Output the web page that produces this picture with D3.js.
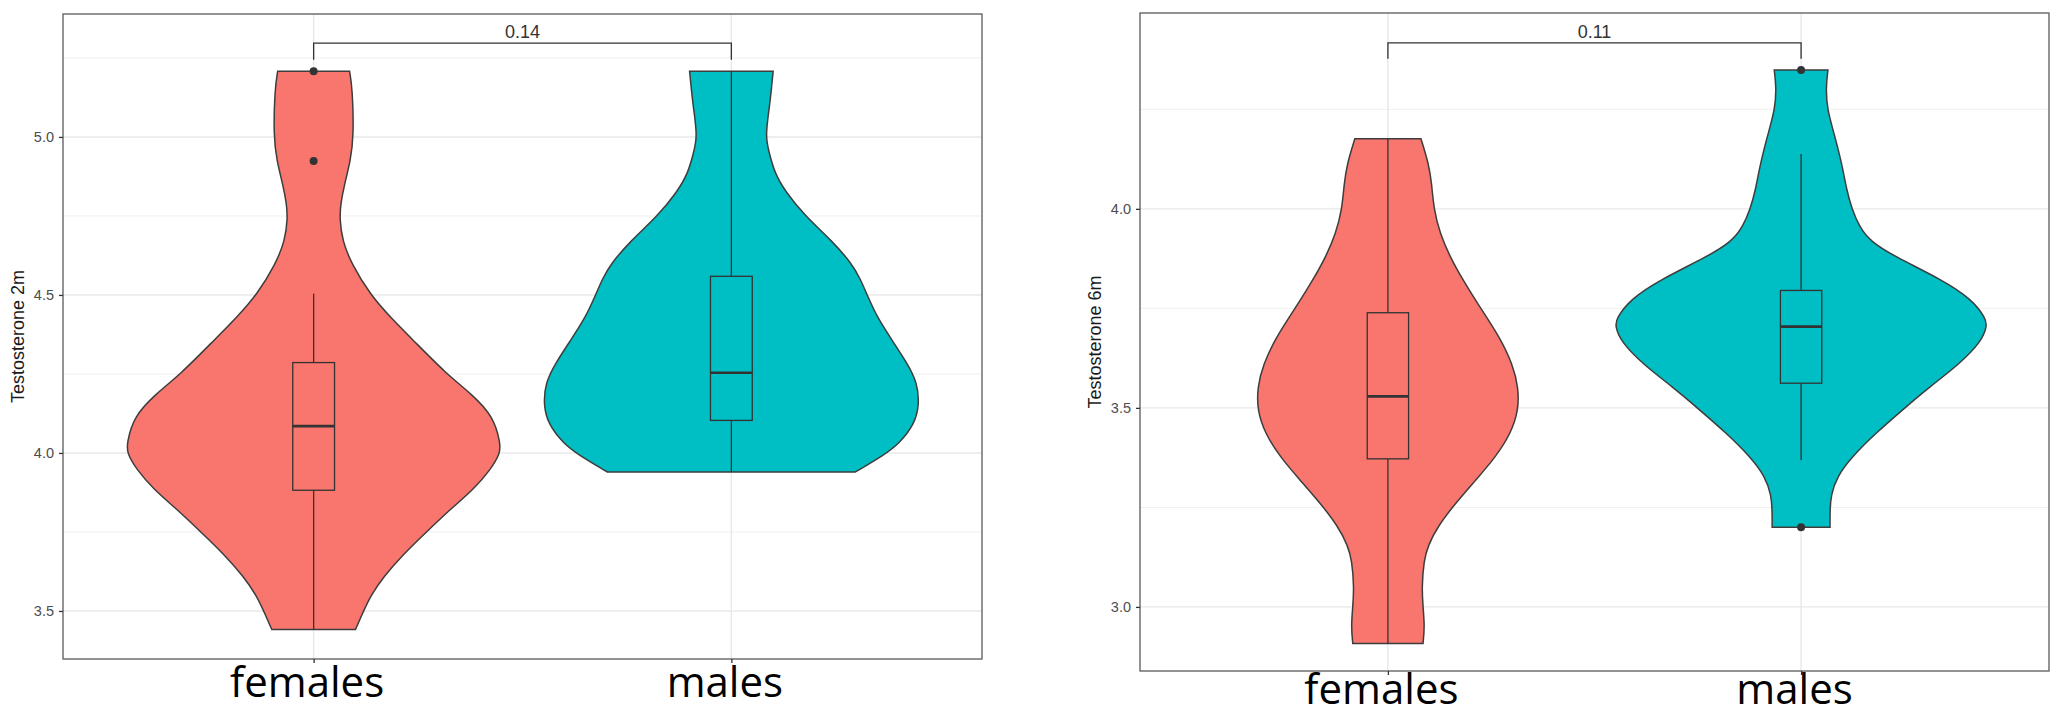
<!DOCTYPE html>
<html>
<head>
<meta charset="utf-8">
<style>
  body { margin: 0; background: #fff; }
  svg { display: block; }
</style>
</head>
<body>
<svg id="chart"></svg>
<script src="https://d3js.org/d3.v7.min.js"></script>
<script>

  var groups = ["females", "males"];

  // Testosterone 2m (left panel)
  var t2mTicks = [3.5, 4.0, 4.5, 5.0];
  var t2mMinor = [3.75, 4.25, 4.75, 5.25];
  // violin outline: [value, half width in category units]
  var t2mFemaleViolin = [
    [3.441, 0.100], [3.501, 0.120], [3.547, 0.136], [3.608, 0.167], [3.680, 0.215],
    [3.750, 0.270], [3.825, 0.330], [3.885, 0.383], [3.946, 0.423], [4.000, 0.447],
    [4.030, 0.447], [4.115, 0.431], [4.187, 0.378], [4.250, 0.318], [4.356, 0.239],
    [4.429, 0.184], [4.500, 0.136], [4.598, 0.091], [4.670, 0.069], [4.743, 0.062],
    [4.791, 0.065], [4.851, 0.074], [4.924, 0.088], [5.000, 0.096], [5.153, 0.093],
    [5.208, 0.086]
  ];
  var t2mMaleViolin = [
    [3.940, 0.297], [3.994, 0.366], [4.030, 0.402], [4.090, 0.438], [4.151, 0.450],
    [4.223, 0.445], [4.284, 0.421], [4.356, 0.385], [4.429, 0.349], [4.500, 0.325],
    [4.550, 0.309], [4.598, 0.289], [4.670, 0.242], [4.749, 0.177], [4.827, 0.129],
    [4.888, 0.103], [4.948, 0.091], [5.000, 0.081], [5.093, 0.091], [5.153, 0.096],
    [5.208, 0.100]
  ];
  // [lower whisker, q1, median, q3, upper whisker]
  var t2mBoxStats = [[3.441, 3.882, 4.085, 4.286, 4.504], [3.940, 4.103, 4.254, 4.559, 5.208]];
  var t2mOutliers = [[4.924, 5.208], []];
  var t2mBracket = [5.244, 5.297];
  var t2mPValue = "0.14";

  // Testosterone 6m (right panel)
  var t6mTicks = [3.0, 3.5, 4.0];
  var t6mMinor = [3.25, 3.75, 4.25];
  var t6mFemaleViolin = [
    [2.908, 0.085], [2.951, 0.089], [3.000, 0.085], [3.048, 0.082], [3.116, 0.087],
    [3.154, 0.097], [3.203, 0.121], [3.261, 0.164], [3.319, 0.213], [3.377, 0.261],
    [3.435, 0.297], [3.493, 0.316], [3.551, 0.316], [3.609, 0.302], [3.677, 0.271],
    [3.749, 0.225], [3.822, 0.181], [3.880, 0.150], [3.938, 0.126], [4.000, 0.111],
    [4.063, 0.106], [4.112, 0.099], [4.176, 0.080]
  ];
  var t6mMaleViolin = [
    [3.200, 0.070], [3.241, 0.070], [3.280, 0.072], [3.328, 0.087], [3.377, 0.123],
    [3.435, 0.179], [3.500, 0.251], [3.551, 0.309], [3.609, 0.382], [3.667, 0.437],
    [3.706, 0.450], [3.725, 0.447], [3.773, 0.413], [3.822, 0.341], [3.880, 0.227],
    [3.918, 0.167], [3.957, 0.140], [4.000, 0.123], [4.044, 0.111], [4.112, 0.099],
    [4.189, 0.080], [4.250, 0.063], [4.305, 0.060], [4.349, 0.065]
  ];
  var t6mBoxStats = [[2.908, 3.372, 3.529, 3.739, 4.176], [3.369, 3.562, 3.704, 3.795, 4.138]];
  var t6mOutliers = [[], [3.200, 4.349]];
  var t6mBracket = [4.377, 4.417];
  var t6mPValue = "0.11";

  var colors = ["#F8766D", "#00BFC4"];
  var ink = "#333333";

  var svg = d3.select("#chart")
    .attr("width", 2060)
    .attr("height", 718);

  function drawPanel(p) {
    var x = d3.scalePoint()
      .domain(groups)
      .range([p.left, p.right])
      .padding(0.6);
    var step = x.step();

    var y = d3.scaleLinear()
      .domain(p.domain)
      .range([p.bottom, p.top]);

    var g = svg.append("g");

    // grid
    g.selectAll(".minor").data(p.minor).enter().append("line")
      .attr("x1", p.left).attr("x2", p.right)
      .attr("y1", function(d) { return y(d); })
      .attr("y2", function(d) { return y(d); })
      .attr("stroke", "#f0f0f0")
      .attr("stroke-width", 1);

    g.selectAll(".major").data(p.ticks).enter().append("line")
      .attr("x1", p.left).attr("x2", p.right)
      .attr("y1", function(d) { return y(d); })
      .attr("y2", function(d) { return y(d); })
      .attr("stroke", "#e8e8e8")
      .attr("stroke-width", 1.4);

    g.selectAll(".vgrid").data(groups).enter().append("line")
      .attr("x1", function(d) { return x(d); })
      .attr("x2", function(d) { return x(d); })
      .attr("y1", p.top).attr("y2", p.bottom)
      .attr("stroke", "#e8e8e8")
      .attr("stroke-width", 1.4);

    groups.forEach(function(grp, i) {
      var cx = x(grp);
      var s = p.boxes[i];
      var bw = 0.1 * step;

      var area = d3.area()
        .curve(d3.curveBasis)
        .y(function(d) { return y(d[0]); })
        .x0(function(d) { return cx - d[1] * step; })
        .x1(function(d) { return cx + d[1] * step; });

      g.append("path")
        .datum(p.violins[i])
        .attr("d", area)
        .attr("fill", colors[i])
        .attr("stroke", "#3d3d3d")
        .attr("stroke-width", 1.5);

      // whiskers
      g.append("line")
        .attr("x1", cx).attr("x2", cx)
        .attr("y1", y(s[0])).attr("y2", y(s[1]))
        .attr("stroke", ink).attr("stroke-width", 1.3);
      g.append("line")
        .attr("x1", cx).attr("x2", cx)
        .attr("y1", y(s[3])).attr("y2", y(s[4]))
        .attr("stroke", ink).attr("stroke-width", 1.3);

      // box
      g.append("rect")
        .attr("x", cx - bw / 2)
        .attr("width", bw)
        .attr("y", y(s[3]))
        .attr("height", y(s[1]) - y(s[3]))
        .attr("fill", colors[i])
        .attr("stroke", ink)
        .attr("stroke-width", 1.3);
      g.append("line")
        .attr("x1", cx - bw / 2).attr("x2", cx + bw / 2)
        .attr("y1", y(s[2])).attr("y2", y(s[2]))
        .attr("stroke", ink).attr("stroke-width", 2.6);

      g.selectAll(".out" + i).data(p.outliers[i]).enter().append("circle")
        .attr("cx", cx)
        .attr("cy", function(d) { return y(d); })
        .attr("r", 4)
        .attr("fill", ink);
    });

    // significance bracket
    var x1 = x(groups[0]), x2 = x(groups[1]);
    g.append("path")
      .attr("d", "M" + x1 + "," + y(p.bracket[0]) + "V" + y(p.bracket[1]) +
        "H" + x2 + "V" + y(p.bracket[0]))
      .attr("fill", "none")
      .attr("stroke", ink)
      .attr("stroke-width", 1.3);
    g.append("text")
      .attr("x", (x1 + x2) / 2)
      .attr("y", y(p.bracket[1]) - 5)
      .attr("text-anchor", "middle")
      .style("font-family", "'Liberation Sans', Arial, sans-serif")
      .style("font-size", "18px")
      .attr("fill", ink)
      .text(p.pValue);

    // panel border
    g.append("rect")
      .attr("x", p.left).attr("y", p.top)
      .attr("width", p.right - p.left)
      .attr("height", p.bottom - p.top)
      .attr("fill", "none")
      .attr("stroke", "#5a5a5a")
      .attr("stroke-width", 1.3);

    // y axis
    var yAxis = g.append("g")
      .attr("transform", "translate(" + p.left + ",0)")
      .call(d3.axisLeft(y).tickValues(p.ticks).tickFormat(d3.format(".1f")).tickSize(4).tickPadding(5));
    yAxis.select(".domain").remove();
    yAxis.selectAll(".tick line").attr("stroke", ink).attr("stroke-width", 1.3);
    yAxis.selectAll(".tick text")
      .style("font-family", "'Liberation Sans', Arial, sans-serif")
      .style("font-size", "14.5px")
      .attr("fill", "#4d4d4d");

    // x axis with large category labels
    var xAxis = g.append("g")
      .attr("transform", "translate(0," + p.bottom + ")")
      .call(d3.axisBottom(x).tickSize(4));
    xAxis.select(".domain").remove();
    xAxis.selectAll(".tick line").attr("stroke", ink).attr("stroke-width", 1.3);
    xAxis.selectAll(".tick text")
      .attr("y", p.labelOffset)
      .attr("dy", 0)
      .attr("dx", -7)
      .style("font-family", "'Open Sans', 'Noto Sans', sans-serif")
      .style("font-size", "42px")
      .attr("fill", "#000");

    // y title
    g.append("text")
      .attr("transform", "translate(" + (p.left - 45) + "," + ((p.top + p.bottom) / 2) + ") rotate(-90)")
      .attr("dy", "0.35em")
      .attr("text-anchor", "middle")
      .style("font-family", "'Liberation Sans', Arial, sans-serif")
      .style("font-size", "18px")
      .attr("fill", "#1a1a1a")
      .text(p.title);
  }

  drawPanel({
    left: 63, right: 982, top: 14, bottom: 659,
    domain: [3.348, 5.389],
    ticks: t2mTicks, minor: t2mMinor,
    violins: [t2mFemaleViolin, t2mMaleViolin],
    boxes: t2mBoxStats, outliers: t2mOutliers,
    bracket: t2mBracket, pValue: t2mPValue,
    labelOffset: 38,
    title: "Testosterone 2m"
  });

  drawPanel({
    left: 1140, right: 2049, top: 13, bottom: 671,
    domain: [2.839, 4.492],
    ticks: t6mTicks, minor: t6mMinor,
    violins: [t6mFemaleViolin, t6mMaleViolin],
    boxes: t6mBoxStats, outliers: t6mOutliers,
    bracket: t6mBracket, pValue: t6mPValue,
    labelOffset: 33,
    title: "Testosterone 6m"
  });

</script>
</body>
</html>
